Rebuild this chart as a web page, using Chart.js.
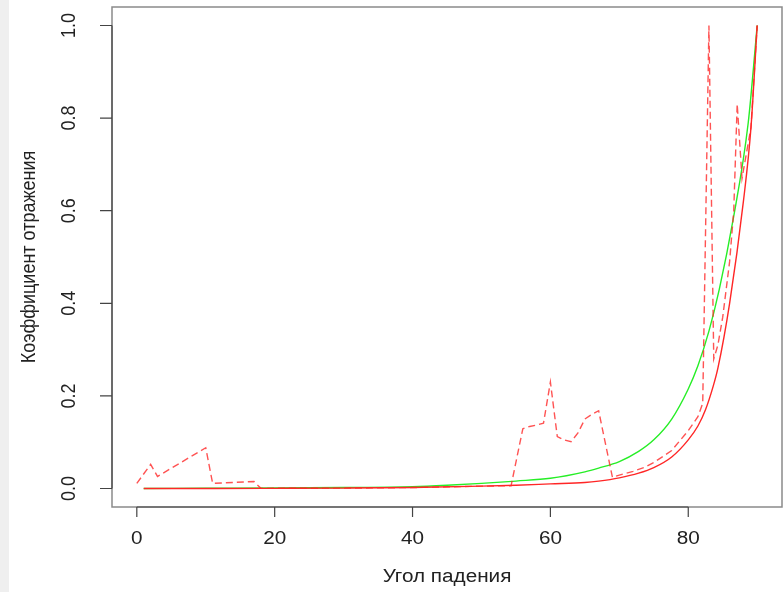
<!DOCTYPE html>
<html>
<head>
<meta charset="utf-8">
<script src="https://cdn.jsdelivr.net/npm/chart.js@4"></script>
<style>
  html, body { margin: 0; padding: 0; background: #fff; }
  #strip { position: absolute; left: 0; top: 0; width: 9px; height: 592px; background: #efefef; }
  #wrap { position: absolute; left: 0; top: 0; width: 784px; height: 592px; }
</style>
</head>
<body>
<div id="strip"></div>
<div id="wrap"><canvas id="chart" width="784" height="592"></canvas></div>
<script>
// values
const xTicks = [0, 20, 40, 60, 80];
const yTicks = [0, 0.2, 0.4, 0.6, 0.8, 1.0];
const xTitle = 'Угол падения';
const yTitle = 'Коэффициент отражения';

// green solid curve
const greenX = [1, 10, 20, 30, 40, 45, 50, 55, 60, 65, 67, 70, 72.8, 75, 77.6, 80, 81.4, 83, 84.5, 86.5, 88.7, 90];
const greenY = [0, 0.0005, 0.001, 0.002, 0.004, 0.007, 0.011, 0.016, 0.022, 0.036, 0.044, 0.058, 0.08, 0.105, 0.15, 0.215, 0.265, 0.34, 0.43, 0.58, 0.79, 1.0];

// red solid curve
const redX = [1, 10, 20, 30, 40, 50, 55, 60, 65, 67, 70, 72.8, 75, 77.6, 80, 81.4, 82.5, 83.6, 84.3, 86, 88, 89.1, 90];
const redY = [0, 0, 0.0003, 0.0008, 0.002, 0.005, 0.007, 0.01, 0.013, 0.016, 0.023, 0.033, 0.045, 0.068, 0.105, 0.135, 0.17, 0.22, 0.26, 0.4, 0.62, 0.78, 1.0];

// red dashed curve
const dashX = [0, 2, 3, 10, 11, 17, 18, 30, 40, 50, 54.3, 56, 57, 58, 59, 60, 61, 62, 63, 64, 65, 66, 67, 69, 70, 72, 73.7, 75, 77.6, 80, 81.4, 82.1, 83, 83.7, 84.3, 85, 86, 86.6, 87.1, 87.8, 89.1, 90];
const dashY = [0.011, 0.052, 0.026, 0.088, 0.011, 0.015, 0.0003, 0.0008, 0.002, 0.005, 0.006, 0.129, 0.134, 0.137, 0.141, 0.23, 0.112, 0.105, 0.101, 0.12, 0.15, 0.16, 0.168, 0.024, 0.029, 0.037, 0.046, 0.056, 0.082, 0.125, 0.155, 0.184, 1.0, 0.28, 0.31, 0.37, 0.49, 0.6, 0.83, 0.67, 0.78, 1.0];

const toPoints = (xs, ys) => xs.map((x, i) => ({ x: x, y: ys[i] }));

const FONT = '18px "Liberation Sans", Arial, sans-serif';
const STRETCH = 1.15; // the reference text is a bit wider than tall

function drawText(ctx, text, x, y, rotated) {
  ctx.save();
  ctx.translate(x, y);
  ctx.scale(STRETCH, 1);
  if (rotated) ctx.rotate(-Math.PI / 2);
  ctx.fillText(text, 0, 0);
  ctx.restore();
}

// R-style frame, axes, ticks and titles
const rAxes = {
  id: 'rAxes',
  afterDraw(chart) {
    const ctx = chart.ctx;
    const a = chart.chartArea;
    const xs = chart.scales.x, ys = chart.scales.y;
    ctx.save();

    ctx.strokeStyle = '#8a8a8a';
    ctx.lineWidth = 1.5;
    ctx.strokeRect(a.left, a.top, a.right - a.left, a.bottom - a.top);

    ctx.strokeStyle = '#444';
    ctx.lineWidth = 1.2;
    ctx.beginPath();
    ctx.moveTo(xs.getPixelForValue(xTicks[0]), a.bottom);
    ctx.lineTo(xs.getPixelForValue(xTicks[xTicks.length - 1]), a.bottom);
    xTicks.forEach(t => {
      const px = xs.getPixelForValue(t);
      ctx.moveTo(px, a.bottom);
      ctx.lineTo(px, a.bottom + 10);
    });
    ctx.moveTo(a.left, ys.getPixelForValue(yTicks[0]));
    ctx.lineTo(a.left, ys.getPixelForValue(yTicks[yTicks.length - 1]));
    yTicks.forEach(t => {
      const py = ys.getPixelForValue(t);
      ctx.moveTo(a.left, py);
      ctx.lineTo(a.left - 12, py);
    });
    ctx.stroke();

    ctx.fillStyle = '#222';
    ctx.font = FONT;
    ctx.textAlign = 'center';
    ctx.textBaseline = 'alphabetic';
    xTicks.forEach(t => drawText(ctx, String(t), xs.getPixelForValue(t), 544, false));
    yTicks.forEach(t => drawText(ctx, t.toFixed(1), 75, ys.getPixelForValue(t), true));

    drawText(ctx, xTitle, (a.left + a.right) / 2, 582, false);
    drawText(ctx, yTitle, 35, (a.top + a.bottom) / 2, true);
    ctx.restore();
  }
};

new Chart(document.getElementById('chart'), {
  type: 'line',
  data: {
    datasets: [
      {
        data: toPoints(dashX, dashY),
        borderColor: 'rgba(255, 40, 40, 0.8)',
        borderWidth: 1.4,
        borderDash: [7, 4],
        tension: 0
      },
      {
        data: toPoints(redX, redY),
        borderColor: '#ff2626',
        borderWidth: 1.4,
        cubicInterpolationMode: 'monotone'
      },
      {
        data: toPoints(greenX, greenY),
        borderColor: '#26ee26',
        borderWidth: 1.4,
        cubicInterpolationMode: 'monotone'
      }
    ]
  },
  options: {
    responsive: false,
    animation: false,
    devicePixelRatio: 1,
    layout: { padding: { left: 112, top: 7, right: 2, bottom: 85 } },
    elements: { point: { radius: 0 } },
    plugins: { legend: { display: false }, tooltip: { enabled: false } },
    scales: {
      x: { type: 'linear', min: -3.6, max: 93.6, display: false },
      y: { type: 'linear', min: -0.04, max: 1.04, display: false }
    }
  },
  plugins: [rAxes]
});
</script>
</body>
</html>
